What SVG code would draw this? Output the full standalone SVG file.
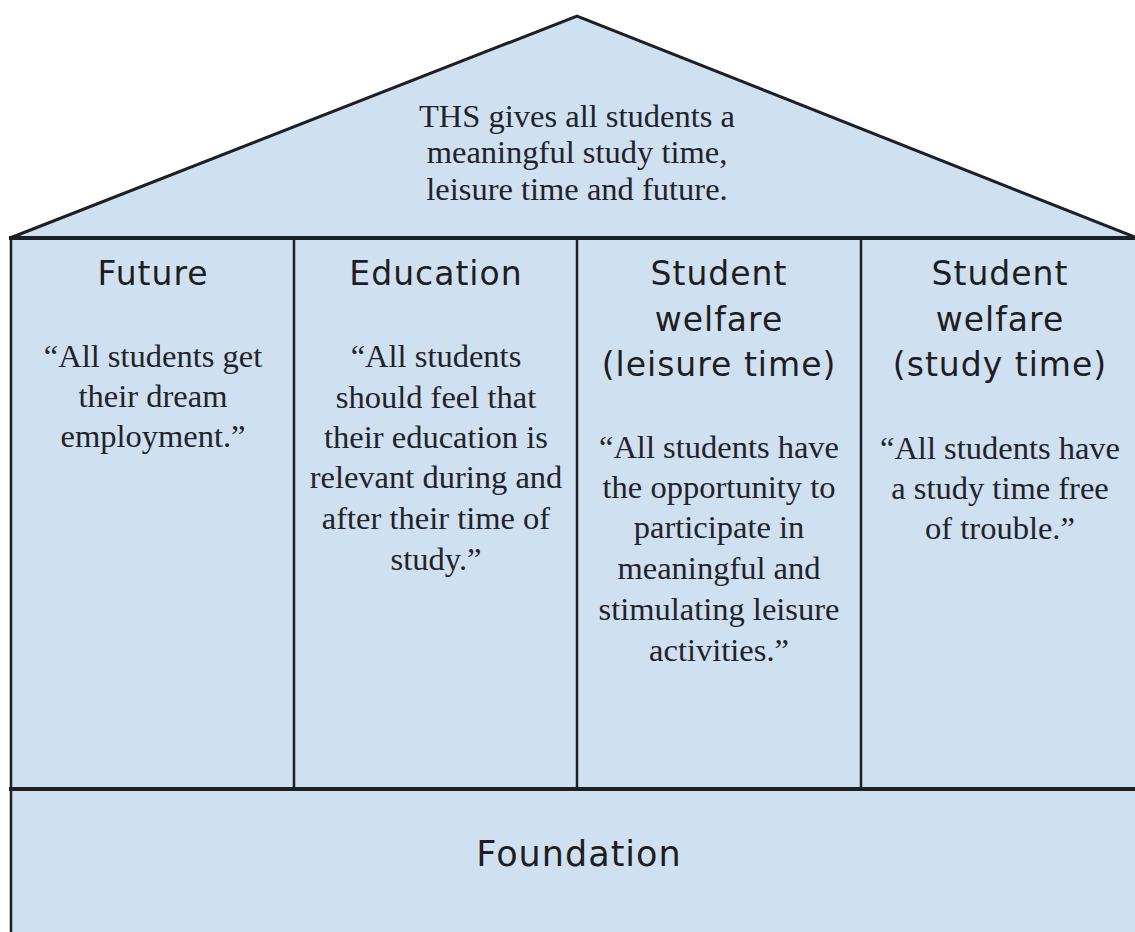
<svg xmlns="http://www.w3.org/2000/svg" width="1135" height="932" viewBox="0 0 1135 932">
<style>
.fill{fill:#cfe0f1;stroke:none}
.edge{fill:none;stroke:#1c1f24;stroke-width:3;stroke-linejoin:miter}
.wall{fill:none;stroke:#1c1f24;stroke-width:2.5}
.beam{fill:none;stroke:#1c1f24;stroke-width:4}
.head{font-family:"DejaVu Sans",sans-serif;font-size:33px;fill:#1e1e22;text-anchor:middle;letter-spacing:1px}
.found{font-family:"DejaVu Sans",sans-serif;font-size:35px;fill:#1e1e22;text-anchor:middle;letter-spacing:1px}
.body{font-family:"Liberation Serif",serif;font-size:32.5px;fill:#22232a;text-anchor:middle}
.roof{font-family:"Liberation Serif",serif;font-size:32.5px;fill:#22232a;text-anchor:middle}
</style>
<rect width="1135" height="932" fill="#ffffff"/>
<g id="roof">
<polygon class="fill" points="577,16 10,238 1137,238"/>
<polyline class="edge" points="10,238 577,16 1137,238"/>
<text class="roof" x="577" y="127">THS gives all students a</text>
<text class="roof" x="577" y="163">meaningful study time,</text>
<text class="roof" x="577" y="200">leisure time and future.</text>
</g>
<g id="col-future">
<rect class="fill" x="10" y="238" width="284" height="551"/>
<text class="head" x="153" y="285">Future</text>
<text class="body" x="153" y="367">“All students get</text>
<text class="body" x="153" y="407">their dream</text>
<text class="body" x="153" y="447">employment.”</text>
</g>
<g id="col-education">
<rect class="fill" x="294" y="238" width="283" height="551"/>
<text class="head" x="436" y="285">Education</text>
<text class="body" x="436" y="367">“All students</text>
<text class="body" x="436" y="408">should feel that</text>
<text class="body" x="436" y="448">their education is</text>
<text class="body" x="436" y="488">relevant during and</text>
<text class="body" x="436" y="529">after their time of</text>
<text class="body" x="436" y="570">study.”</text>
</g>
<g id="col-leisure">
<rect class="fill" x="577" y="238" width="284" height="551"/>
<text class="head" x="719" y="285">Student</text>
<text class="head" x="719" y="331">welfare</text>
<text class="head" x="719" y="376">(leisure time)</text>
<text class="body" x="719" y="458">“All students have</text>
<text class="body" x="719" y="498">the opportunity to</text>
<text class="body" x="719" y="538">participate in</text>
<text class="body" x="719" y="579">meaningful and</text>
<text class="body" x="719" y="620">stimulating leisure</text>
<text class="body" x="719" y="661">activities.”</text>
</g>
<g id="col-study">
<rect class="fill" x="861" y="238" width="276" height="551"/>
<text class="head" x="1000" y="285">Student</text>
<text class="head" x="1000" y="331">welfare</text>
<text class="head" x="1000" y="376">(study time)</text>
<text class="body" x="1000" y="459">“All students have</text>
<text class="body" x="1000" y="499">a study time free</text>
<text class="body" x="1000" y="539">of trouble.”</text>
</g>
<g id="foundation">
<rect class="fill" x="10" y="789" width="1127" height="143"/>
<text class="found" x="579" y="866">Foundation</text>
</g>
<g id="connectors">
<line class="wall" x1="294" y1="238" x2="294" y2="789"/>
<line class="wall" x1="577" y1="238" x2="577" y2="789"/>
<line class="wall" x1="861" y1="238" x2="861" y2="789"/>
<line class="wall" x1="11" y1="238" x2="11" y2="932"/>
<line class="beam" x1="9" y1="238" x2="1137" y2="238"/>
<line class="beam" x1="9" y1="789" x2="1137" y2="789"/>
</g>
</svg>
